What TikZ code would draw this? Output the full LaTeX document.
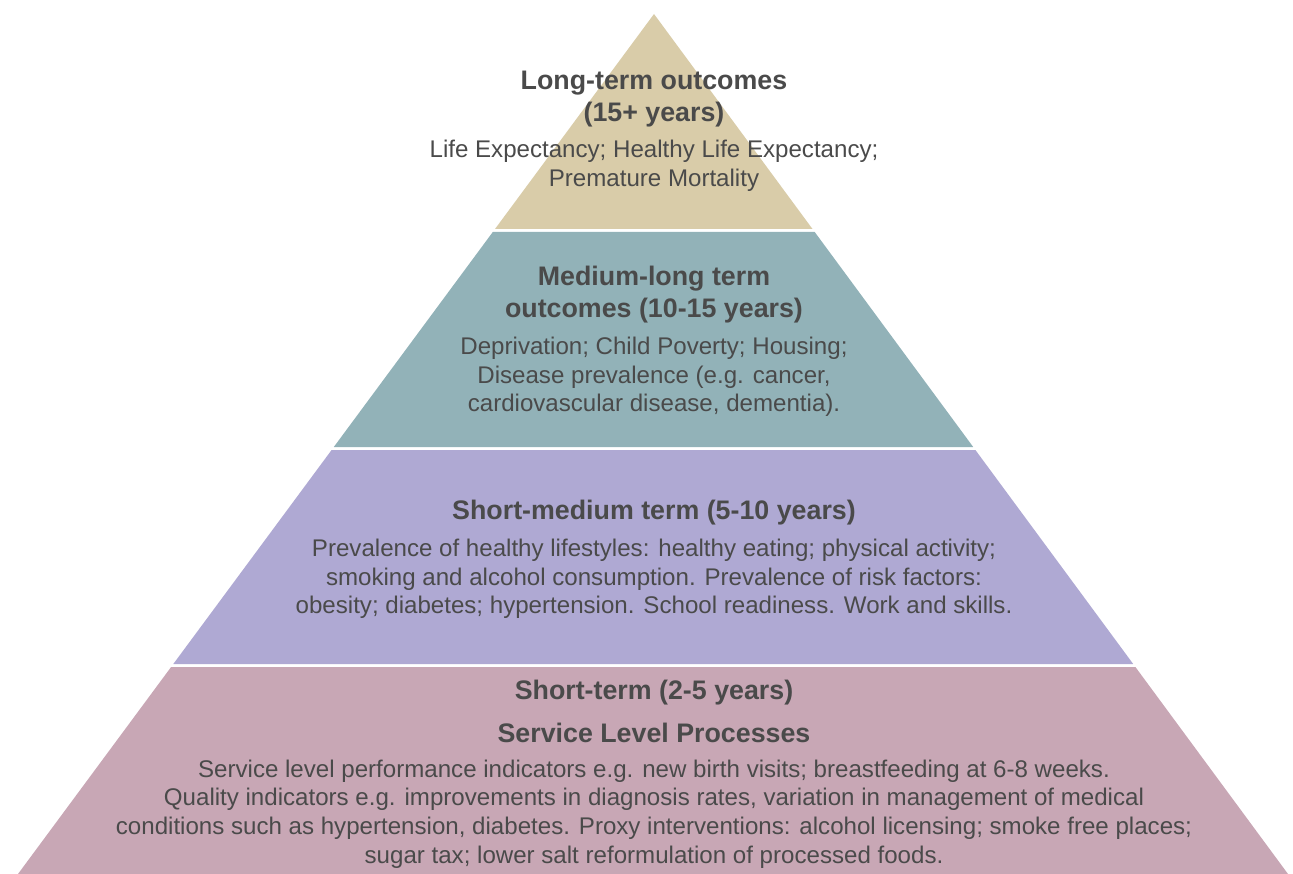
\documentclass[tikz,border=0pt]{standalone}
\usepackage{fontspec}
\setmainfont{Liberation Sans}
\definecolor{ltan}{HTML}{D9CCA9}
\definecolor{lteal}{HTML}{92B2B8}
\definecolor{llav}{HTML}{AFA9D3}
\definecolor{lmauve}{HTML}{C8A7B5}
\definecolor{txt}{HTML}{4A4A4A}
\tikzset{
  head/.style={text=txt, font=\fontsize{26.8}{32}\selectfont\bfseries, align=center, inner sep=0pt},
  body/.style={text=txt, font=\fontsize{24.1}{28.7}\selectfont, align=center, inner sep=0pt},
  layer/.style={draw=none}
}
\begin{document}
\begin{tikzpicture}[x=1pt,y=-1pt]
\useasboundingbox (0,0) rectangle (1293,874);
\fill[layer, ltan] (654,14) -- (812.5,229) -- (495,229) -- cycle;
\fill[layer, lteal] (492.8,232) -- (814.7,232) -- (973.2,447) -- (333.8,447) -- cycle;
\fill[layer, llav] (331.6,450) -- (975.4,450) -- (1133.2,664) -- (173.3,664) -- cycle;
\fill[layer, lmauve] (171.1,667) -- (1135.4,667) -- (1288,874) -- (18,874) -- cycle;

\node[head] (h1) at (654,99) {Long-term outcomes\\(15+ years)};
\node[body] (b1) at (654,166) {Life Expectancy; Healthy Life Expectancy;\\Premature Mortality};

\node[head] (h2) at (654,295) {Medium-long term\\outcomes (10-15 years)};
\node[body] (b2) at (654,377) {Deprivation; Child Poverty; Housing;\\Disease prevalence (e.g. cancer,\\cardiovascular disease, dementia).};

\node[head] (h3) at (654,513) {Short-medium term (5-10 years)};
\node[body] (b3) at (654,579) {Prevalence of healthy lifestyles: healthy eating; physical activity;\\smoking and alcohol consumption. Prevalence of risk factors:\\obesity; diabetes; hypertension. School readiness. Work and skills.};

\node[head] (h4a) at (654,693) {Short-term (2-5 years)};
\node[head] (h4b) at (654,733) {Service Level Processes};
\node[body] (b4) at (654,814) {Service level performance indicators e.g. new birth visits; breastfeeding at 6-8 weeks.\\Quality indicators e.g. improvements in diagnosis rates, variation in management of medical\\conditions such as hypertension, diabetes. Proxy interventions: alcohol licensing; smoke free places;\\sugar tax; lower salt reformulation of processed foods.};
\end{tikzpicture}
\end{document}
